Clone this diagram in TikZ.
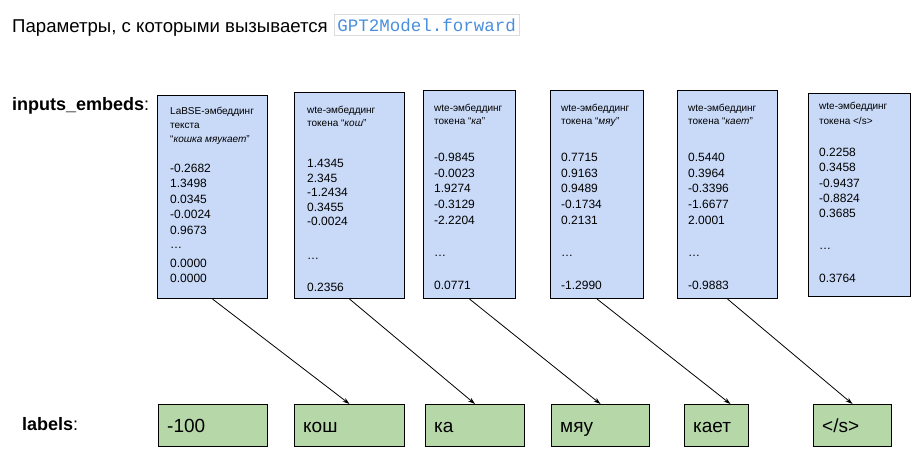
\documentclass[tikz,border=0pt]{standalone}
\usepackage{fontspec}
\setmainfont{Liberation Sans}
\setmonofont{Liberation Mono}
\usepackage{xcolor}
\usetikzlibrary{arrows.meta}
\definecolor{embblue}{HTML}{C9DAF8}
\definecolor{lblgreen}{HTML}{B6D7A8}
\definecolor{codeblue}{HTML}{4A8FDC}
\definecolor{codeframe}{HTML}{DADCE0}

\begin{document}
\begin{tikzpicture}[x=1pt,y=-1pt,
    embbox/.style={draw=black, fill=embblue, line width=1pt, inner sep=0pt, anchor=north west},
    lblbox/.style={draw=black, fill=lblgreen, line width=1pt, inner sep=0pt, anchor=north west, minimum height=42},
    headtxt/.style={font=\fontsize{10}{12}\selectfont, inner sep=0pt, anchor=base west},
    numtxt/.style={font=\fontsize{12}{14}\selectfont, inner sep=0pt, anchor=base west},
    lbltxt/.style={font=\fontsize{19}{22}\selectfont, inner sep=0pt, anchor=base west},
    sidetxt/.style={font=\fontsize{18}{21}\selectfont, inner sep=0pt, anchor=base west},
    tok/.style={-{Stealth[length=7pt,width=4.5pt]}, line width=0.8pt}]
    \useasboundingbox (0,0) rectangle (918,466);

    % title line
    \node[sidetxt, font=\fontsize{18.6}{22}\selectfont] (title) at (12,32) {Параметры, с которыми вызывается};
    \node[draw=codeframe, line width=0.8pt, inner xsep=3pt, inner ysep=4pt, anchor=base west,
          font=\ttfamily\fontsize{17.5}{20}\selectfont, text=codeblue] (code) at (334,31) {GPT2Model.forward};

    \node[sidetxt] (inlbl) at (12,110) {\textbf{inputs\_embeds}:};
    \node[sidetxt] (lbllbl) at (22,430) {\textbf{labels}:};

    % embedding boxes
    \node[embbox, minimum width=110, minimum height=203] (e1) at (157,95) {};
    \node[embbox, minimum width=110, minimum height=206] (e2) at (294,92) {};
    \node[embbox, minimum width=92, minimum height=208] (e3) at (423,90) {};
    \node[embbox, minimum width=93, minimum height=208] (e4) at (550,90) {};
    \node[embbox, minimum width=100, minimum height=208] (e5) at (677,90) {};
    \node[embbox, minimum width=102, minimum height=203] (e6) at (808,93) {};

    \foreach \b/\x/\hd/\vals in {
        1/170/{LaBSE-эмбеддинг/114, текста/128, {“\textit{кошка мяукает}”}/142}/{-0.2682/172, 1.3498/187.5, 0.0345/203, -0.0024/218.5, 0.9673/234, …/248, 0.0000/267, 0.0000/282.5},
        2/307/{wte-эмбеддинг/113, {токена “\textit{кош}”}/126}/{1.4345/167.5, 2.345/182, -1.2434/196.5, 0.3455/211, -0.0024/225.5, …/259, 0.2356/291.5},
        3/434/{wte-эмбеддинг/111, {токена “\textit{ка}”}/124}/{-0.9845/161.5, -0.0023/177, 1.9274/192.5, -0.3129/208, -2.2204/224, …/256, 0.0771/289.5},
        4/561/{wte-эмбеддинг/111, {токена “\textit{мяу}”}/124}/{0.7715/161.5, 0.9163/177, 0.9489/192.5, -0.1734/208, 0.2131/224, …/256, -1.2990/289.5},
        5/688/{wte-эмбеддинг/111, {токена “\textit{кает}”}/124}/{0.5440/161.5, 0.3964/177, -0.3396/192.5, -1.6677/208, 2.0001/224, …/256, -0.9883/289.5},
        6/819/{wte-эмбеддинг/109, {токена </s>}/124}/{0.2258/156.5, 0.3458/171.5, -0.9437/187, -0.8824/202.5, 0.3685/217.5, …/249, 0.3764/282.5}} {
        \foreach \t/\yy [count=\k] in \hd {\node[headtxt] (h\b-\k) at (\x,\yy) {\t};}
        \foreach \v/\yy [count=\k] in \vals {\node[numtxt] (v\b-\k) at (\x,\yy) {\v};}
    }

    % label boxes
    \node[lblbox, minimum width=109] (g1) at (158,404) {};
    \node[lblbox, minimum width=110] (g2) at (294,404) {};
    \node[lblbox, minimum width=99] (g3) at (425,404) {};
    \node[lblbox, minimum width=98] (g4) at (551,404) {};
    \node[lblbox, minimum width=64] (g5) at (684,404) {};
    \node[lblbox, minimum width=78] (g6) at (813,404) {};

    \foreach \i/\lab in {1/-100, 2/кош, 3/ка, 4/мяу, 5/кает, 6/{</s>}}
        \node[lbltxt] (l\i) at ([xshift=9pt, yshift=-6.5pt]g\i.west) {\lab};

    % shifted by one token
    \foreach \i/\j/\dx in {1/2/0, 2/3/0, 3/4/0, 4/5/14, 5/6/0}
        \draw[tok] (e\i.south) -- ([xshift=\dx pt]g\j.north);
\end{tikzpicture}
\end{document}
